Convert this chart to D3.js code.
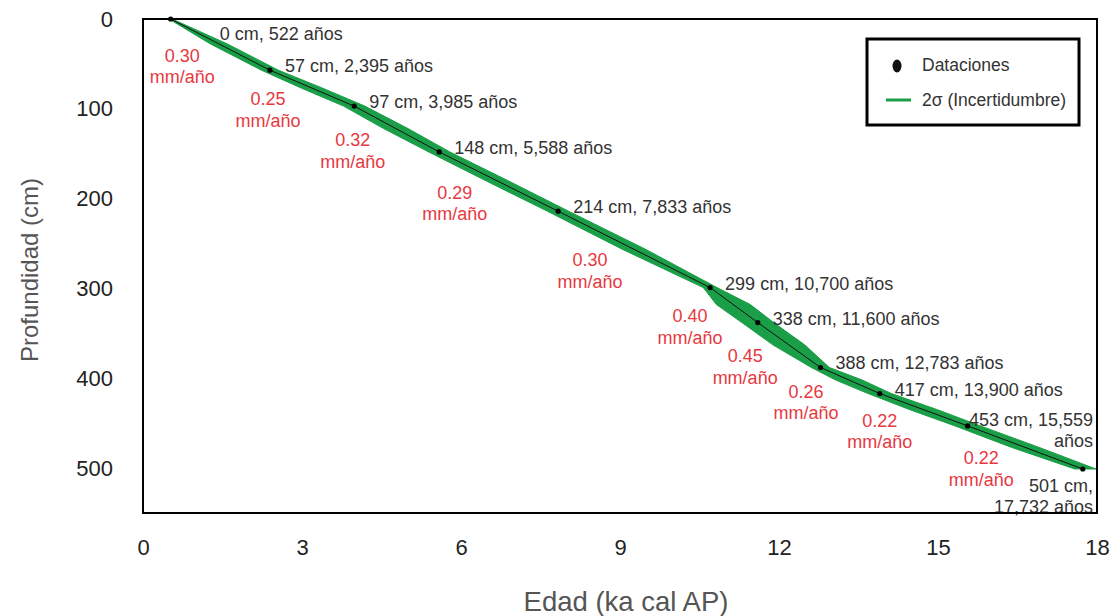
<!DOCTYPE html>
<html>
<head>
<meta charset="utf-8">
<script src="https://cdn.jsdelivr.net/npm/d3@7"></script>
<style>
  html, body { margin: 0; padding: 0; background: #fff; }
  svg { display: block; font-family: "Liberation Sans", Arial, sans-serif; }
</style>
</head>
<body>
<svg id="chart" width="1113" height="616"></svg>
<script>
// ---- data ----
const depthsCm = [0, 57, 97, 148, 214, 299, 338, 388, 417, 453, 501];
const agesYears = [522, 2395, 3985, 5588, 7833, 10700, 11600, 12783, 13900, 15559, 17732];
const ratesMmYr = ["0.30", "0.25", "0.32", "0.29", "0.30", "0.40", "0.45", "0.26", "0.22", "0.22"];

// 2-sigma uncertainty envelope (age in ka at given depth)
const bandDepth = [0, 28, 57, 77, 97, 122, 148, 181, 214, 256, 299, 318, 338, 363, 388, 402, 417, 435, 453, 477, 501];
const bandYoung = [0.49, 1.28, 2.235, 2.99, 3.785, 4.54, 5.39, 6.50, 7.63, 9.03, 10.57, 10.82, 11.30, 11.89, 12.61, 13.07, 13.68, 14.47, 15.32, 16.39, 17.58];
const bandOld   = [0.55, 1.60, 2.555, 3.39, 4.185, 5.00, 5.79, 6.92, 8.03, 9.47, 10.83, 11.46, 11.90, 12.49, 12.95, 13.57, 14.12, 14.99, 15.80, 16.91, 17.98];

const xTicks = [0, 3, 6, 9, 12, 15, 18];
const yTicks = [0, 100, 200, 300, 400, 500];
const xTitle = "Edad (ka cal AP)";
const yTitle = "Profundidad (cm)";
const legendItems = ["Dataciones", "2σ (Incertidumbre)"];

// ---- layout ----
const plot = { left: 143, top: 19, right: 1097, bottom: 513 };
const green = "#1b9e48";
const red = "#e8383f";
const textGray = "#333";

const svg = d3.select("#chart");
const x = d3.scaleLinear().domain([0, 18]).range([plot.left, plot.right]);
const y = d3.scaleLinear().domain([0, 550]).range([plot.top, plot.bottom]);

// axes (labels only, no tick marks)
const xAxis = svg.append("g")
  .attr("transform", `translate(0,${plot.bottom + 34})`)
  .call(d3.axisBottom(x).tickValues(xTicks).tickSize(0).tickPadding(0).tickFormat(d3.format("d")));
xAxis.select(".domain").remove();
xAxis.selectAll("text").attr("font-size", 22).attr("fill", "#222")
  .attr("font-family", "Liberation Sans, Arial, sans-serif").attr("dy", "0.35em");

const yAxis = svg.append("g")
  .attr("transform", `translate(${plot.left - 30},0)`)
  .call(d3.axisLeft(y).tickValues(yTicks).tickSize(0).tickPadding(0).tickFormat(d3.format("d")));
yAxis.select(".domain").remove();
yAxis.selectAll("text").attr("font-size", 22).attr("fill", "#222")
  .attr("font-family", "Liberation Sans, Arial, sans-serif");

// axis titles
svg.append("text")
  .attr("x", (plot.left + plot.right) / 2 + 6).attr("y", 601)
  .attr("text-anchor", "middle").attr("dominant-baseline", "central")
  .attr("font-size", 27.5).attr("fill", "#555").text(xTitle);
svg.append("text")
  .attr("transform", `translate(29,${(plot.top + plot.bottom) / 2 + 4}) rotate(-90)`)
  .attr("text-anchor", "middle").attr("dominant-baseline", "central")
  .attr("font-size", 24).attr("fill", "#555").text(yTitle);

// uncertainty band
const bandData = bandDepth.map((d, i) => ({ d, y0: bandYoung[i], y1: bandOld[i] }));
const bandPath = d3.line().x(p => p[0]).y(p => p[1]);
const poly = bandData.map(p => [x(p.y0), y(p.d)])
  .concat(bandData.slice().reverse().map(p => [x(p.y1), y(p.d)]));
svg.append("path")
  .attr("d", bandPath(poly) + "Z")
  .attr("fill", green).attr("stroke", green).attr("stroke-width", 1);

// age-depth line
const pts = depthsCm.map((d, i) => ({ d, a: agesYears[i] / 1000 }));
svg.append("path")
  .attr("d", d3.line().x(p => x(p.a)).y(p => y(p.d))(pts))
  .attr("fill", "none").attr("stroke", "#111").attr("stroke-width", 1);

svg.selectAll("circle.pt").data(pts).enter().append("circle")
  .attr("class", "pt")
  .attr("cx", p => x(p.a)).attr("cy", p => y(p.d)).attr("r", 2.6)
  .attr("fill", "#000");

// date labels
const fmt = d3.format(",");
const labelLayout = depthsCm.map((d, i) => {
  const txt = `${d} cm, ${fmt(agesYears[i])} años`;
  if (i === 0) return { dx: 49, dy: 15, anchor: "start", lines: [txt] };
  if (i === depthsCm.length - 2) return { fixedX: plot.right - 4, dy: -6, anchor: "end",
    lines: [`${d} cm, ${fmt(agesYears[i])}`, "años"] };
  if (i === depthsCm.length - 1) return { fixedX: plot.right - 4, dy: 17, anchor: "end",
    lines: [`${d} cm,`, `${fmt(agesYears[i])} años`] };
  return { dx: 15, dy: -4, anchor: "start", lines: [txt] };
});
pts.forEach((p, i) => {
  const L = labelLayout[i];
  const tx = L.fixedX !== undefined ? L.fixedX : x(p.a) + L.dx;
  const ty = y(p.d) + L.dy;
  const t = svg.append("text")
    .attr("text-anchor", L.anchor).attr("font-size", 18).attr("fill", textGray);
  L.lines.forEach((ln, k) => {
    t.append("tspan").attr("x", tx).attr("y", ty + k * 21)
      .attr("dominant-baseline", "central").text(ln);
  });
});

// rate labels (centered below-left of each segment midpoint)
ratesMmYr.forEach((r, i) => {
  const a = pts[i], b = pts[i + 1];
  const mx = x((a.a + b.a) / 2) - (i === 0 ? 38 : 44);
  const my = y((a.d + b.d) / 2) + 11;
  const t = svg.append("text").attr("text-anchor", "middle")
    .attr("font-size", 18).attr("fill", red);
  t.append("tspan").attr("x", mx).attr("y", my).attr("dominant-baseline", "central").text(r);
  t.append("tspan").attr("x", mx).attr("y", my + 21.5).attr("dominant-baseline", "central").text("mm/año");
});

// plot frame
svg.append("rect")
  .attr("x", plot.left).attr("y", plot.top)
  .attr("width", plot.right - plot.left).attr("height", plot.bottom - plot.top)
  .attr("fill", "none").attr("stroke", "#000").attr("stroke-width", 2);

// legend
const lg = svg.append("g");
lg.append("rect").attr("x", 867).attr("y", 39).attr("width", 212).attr("height", 86)
  .attr("fill", "#fff").attr("stroke", "#000").attr("stroke-width", 3);
lg.append("ellipse").attr("cx", 897).attr("cy", 66).attr("rx", 4.5).attr("ry", 6.5).attr("fill", "#111");
lg.append("text").attr("x", 922).attr("y", 65).attr("dominant-baseline", "central")
  .attr("font-size", 17.5).attr("fill", textGray).text(legendItems[0]);
lg.append("line").attr("x1", 886).attr("x2", 911).attr("y1", 100).attr("y2", 100)
  .attr("stroke", green).attr("stroke-width", 3);
lg.append("text").attr("x", 922).attr("y", 100).attr("dominant-baseline", "central")
  .attr("font-size", 17.5).attr("fill", textGray).text(legendItems[1]);
</script>
</body>
</html>
